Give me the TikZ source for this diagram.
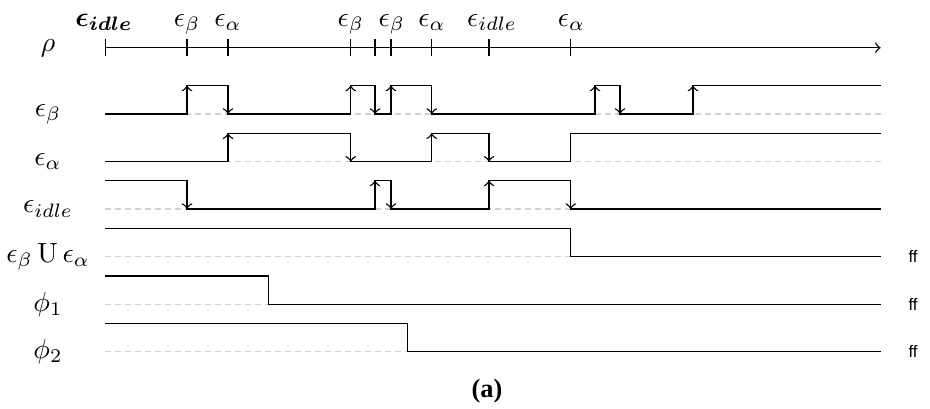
\documentclass[tikz,border=0pt]{standalone}
\usepackage{amsmath}
\usepackage{fontspec}
\newfontfamily\capfont{Liberation Serif}
\newfontfamily\fffont{Liberation Sans}

\begin{document}
\begin{tikzpicture}[x=0.36pt,y=0.36pt,yscale=-1,xscale=1,
  sig/.style={line width=0.5pt},
  flank/.style={sig,->},
  zeroline/.style={color={rgb, 255:red, 210; green, 210; blue, 210 },dash pattern={on 2pt off 1.6pt}},
  lbl/.style={inner sep=0.75pt}]
\useasboundingbox (0,0) rectangle (930,409);

%Dashed zero lines
\draw [zeroline] (105.3,114) -- (880.7,114);
\draw [zeroline] (105.3,161.7) -- (880.7,161.7);
\draw [zeroline] (105.3,209) -- (880.7,209);
\draw [zeroline] (105.3,256.7) -- (880.7,256.7);
\draw [zeroline] (105.3,304.3) -- (880.7,304.3);
\draw [zeroline] (105.3,351.7) -- (880.7,351.7);

%Time axis
\draw [sig,->] (105.3,47.7) -- (880.7,47.7);
\draw [sig] (105.3,39.2) -- (105.3,56.2) (187,39.2) -- (187,56.2) (228,39.2) -- (228,56.2) (350.7,39.2) -- (350.7,56.2) (375,39.2) -- (375,56.2) (391,39.2) -- (391,56.2) (431.7,39.2) -- (431.7,56.2) (489,39.2) -- (489,56.2) (570.7,39.2) -- (570.7,56.2);

%Signal: epsilon beta
\draw [sig] (105.3,114) -- (187,114) -- (187,85.6) -- (228,85.6) -- (228,114) -- (350.7,114) -- (350.7,85.6) -- (375,85.6) -- (375,114) -- (391,114) -- (391,85.6) -- (431.7,85.6) -- (431.7,114) -- (595,114) -- (595,85.6) -- (620,85.6) -- (620,114) -- (693,114) -- (693,85.6) -- (880.7,85.6);
\draw [flank] (187,114) -- (187,85.6);
\draw [flank] (228,85.6) -- (228,114);
\draw [flank] (350.7,114) -- (350.7,85.6);
\draw [flank] (375,85.6) -- (375,114);
\draw [flank] (391,114) -- (391,85.6);
\draw [flank] (431.7,85.6) -- (431.7,114);
\draw [flank] (595,114) -- (595,85.6);
\draw [flank] (620,85.6) -- (620,114);
\draw [flank] (693,114) -- (693,85.6);

%Signal: epsilon alpha
\draw [sig] (105.3,161.7) -- (228,161.7) -- (228,133.3) -- (350.7,133.3) -- (350.7,161.7) -- (431.7,161.7) -- (431.7,133.3) -- (489,133.3) -- (489,161.7) -- (570.7,161.7) -- (570.7,133.3) -- (880.7,133.3);
\draw [flank] (228,161.7) -- (228,133.3);
\draw [flank] (350.7,133.3) -- (350.7,161.7);
\draw [flank] (431.7,161.7) -- (431.7,133.3);
\draw [flank] (489,133.3) -- (489,161.7);

%Signal: epsilon idle
\draw [sig] (105.3,180.6) -- (187,180.6) -- (187,209) -- (375,209) -- (375,180.6) -- (391,180.6) -- (391,209) -- (489,209) -- (489,180.6) -- (570.7,180.6) -- (570.7,209) -- (880.7,209);
\draw [flank] (187,180.6) -- (187,209);
\draw [flank] (375,209) -- (375,180.6);
\draw [flank] (391,180.6) -- (391,209);
\draw [flank] (489,209) -- (489,180.6);
\draw [flank] (570.7,180.6) -- (570.7,209);

%Signal: until
\draw [sig] (105.3,228.3) -- (570.7,228.3) -- (570.7,256.7) -- (880.7,256.7);
%Signal: phi 1
\draw [sig] (105.3,275.9) -- (268.7,275.9) -- (268.7,304.3) -- (880.7,304.3);
%Signal: phi 2
\draw [sig] (105.3,323.3) -- (407.3,323.3) -- (407.3,351.7) -- (880.7,351.7);

% Text Node
\draw (104,26.5) node [anchor=base][lbl] (ev0) {$\boldsymbol{\epsilon_{idle}}$};
% Text Node
\draw (187,26.5) node [anchor=base][lbl] (ev1) {$\epsilon_{\beta}$};
% Text Node
\draw (228,26.5) node [anchor=base][lbl] (ev2) {$\epsilon_{\alpha}$};
% Text Node
\draw (350.7,26.5) node [anchor=base][lbl] (ev3) {$\epsilon_{\beta}$};
% Text Node
\draw (391.7,26.5) node [anchor=base][lbl] (ev4) {$\epsilon_{\beta}$};
% Text Node
\draw (432,26.5) node [anchor=base][lbl] (ev5) {$\epsilon_{\alpha}$};
% Text Node
\draw (492,26.5) node [anchor=base][lbl] (ev6) {$\epsilon_{idle}$};
% Text Node
\draw (571.5,26.5) node [anchor=base][lbl] (ev7) {$\epsilon_{\alpha}$};

% Text Node
\draw (48,48) node [lbl] (rho) {$\rho$};
% Text Node
\draw (48,114) node [lbl] (sbeta) {$\epsilon_{\beta}$};
% Text Node
\draw (48,161.7) node [lbl] (salpha) {$\epsilon_{\alpha}$};
% Text Node
\draw (48,209) node [lbl] (sidle) {$\epsilon_{idle}$};
% Text Node
\draw (48,256.7) node [lbl] (suntil) {$\epsilon_{\beta}\,\mathrm{U}\,\epsilon_{\alpha}$};
% Text Node
\draw (48,304.3) node [lbl] (sphi1) {$\phi_{1}$};
% Text Node
\draw (48,351.7) node [lbl] (sphi2) {$\phi_{2}$};

% Text Node
\draw (913,256.7) node [lbl,font=\fffont\fontsize{6}{7}\selectfont] (ffuntil) {ff};
% Text Node
\draw (913,304.3) node [lbl,font=\fffont\fontsize{6}{7}\selectfont] (ffphi1) {ff};
% Text Node
\draw (913,351.7) node [lbl,font=\fffont\fontsize{6}{7}\selectfont] (ffphi2) {ff};

% Text Node
\draw (487,391) node [lbl,font=\capfont\bfseries\fontsize{9.5}{11}\selectfont] (cap) {(a)};

\end{tikzpicture}
\end{document}
